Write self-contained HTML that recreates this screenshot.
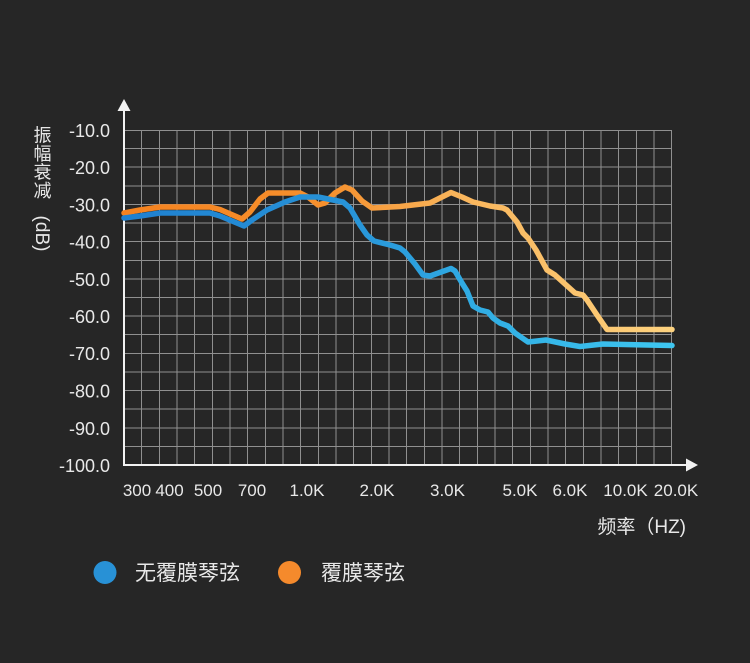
<!DOCTYPE html>
<html>
<head>
<meta charset="utf-8">
<style>
  html,body{margin:0;padding:0;background:#262626;}
  body{width:750px;height:663px;position:relative;overflow:hidden;}
  svg{position:absolute;left:0;top:0;}
</style>
</head>
<body>
<svg width="750" height="663" viewBox="0 0 750 663" xmlns="http://www.w3.org/2000/svg">
  <defs>
    <linearGradient id="og" gradientUnits="userSpaceOnUse" x1="124" y1="0" x2="672" y2="0">
      <stop offset="0" stop-color="#f5821f"/>
      <stop offset="0.38" stop-color="#f6912e"/>
      <stop offset="0.6" stop-color="#f9b45a"/>
      <stop offset="1" stop-color="#fdd27f"/>
    </linearGradient>
    <linearGradient id="bg" gradientUnits="userSpaceOnUse" x1="124" y1="0" x2="672" y2="0">
      <stop offset="0" stop-color="#1f80d0"/>
      <stop offset="0.4" stop-color="#2793d8"/>
      <stop offset="0.7" stop-color="#33b2e6"/>
      <stop offset="1" stop-color="#3ec6f0"/>
    </linearGradient>
  </defs>
  <g stroke="#909090" stroke-width="1" fill="none" shape-rendering="crispEdges">
    <path d="M124 130.5H672 M124 148.6H672 M124 167.2H672 M124 185.8H672 M124 204.4H672 M124 223.1H672 M124 241.7H672 M124 260.3H672 M124 278.9H672 M124 297.5H672 M124 316.1H672 M124 334.7H672 M124 353.3H672 M124 371.9H672 M124 390.6H672 M124 409.2H672 M124 427.8H672 M124 446.4H672"/>
    <path d="M141.7 130V465 M159.3 130V465 M177 130V465 M194.7 130V465 M212.3 130V465 M230 130V465 M247.7 130V465 M265.3 130V465 M283 130V465 M300.7 130V465 M318.3 130V465 M336 130V465 M353.7 130V465 M371.3 130V465 M389 130V465 M406.7 130V465 M424.3 130V465 M442 130V465 M459.7 130V465 M477.3 130V465 M495 130V465 M512.7 130V465 M530.3 130V465 M548 130V465 M565.7 130V465 M583.3 130V465 M601 130V465 M618.7 130V465 M636.3 130V465 M654 130V465 M671.7 130V465"/>
  </g>
  <!-- axes -->
  <g stroke="#f2f2f2" stroke-width="2" fill="none">
    <path d="M124 108V466 M123 465H688"/>
  </g>
  <polygon points="124,99 117.5,111 130.5,111" fill="#f2f2f2"/>
  <polygon points="698,465 686,458.5 686,471.5" fill="#f2f2f2"/>
  <!-- series -->
  <polyline fill="none" stroke="url(#og)" stroke-width="5.5" stroke-linejoin="round" stroke-linecap="round"
    points="124,213 140,210 160,207 210,207 220,209.5 242,219 250,212 260,199 268,193 300,193 308,197 318,205 325,203 335,193 345,187 352,190 362,201 372,208 400,206.5 430,203 440,198 451,192.5 462,197 473,202 490,206 503,208 507,210 517,222 523,233 528,238 536,250 547,270 555,275 565,284 575,293 583,295 587,300 597,315 607,329.5 672,329.5"/>
  <polyline fill="none" stroke="url(#bg)" stroke-width="5.5" stroke-linejoin="round" stroke-linecap="round"
    points="124,218 140,216 160,213 210,213 220,216 244,226 252,220 267,210 285,202 300,197 318,197 343,202 350,208 360,225 367,235 374,241 390,245 400,248 405,252 415,264 423,275 430,276 451,268.5 455,271 462,283 467,291 473,306 480,310 488,312 493,318 500,323 508,326 515,333 528,342 546,340 565,344 580,346.5 603,344 672,345.5"/>
  <!-- y title -->
  <g font-family="Liberation Sans, Noto Sans CJK SC, sans-serif" font-size="18" fill="#e6e6e6" text-anchor="middle">
    <text x="42.5" y="141.5">振</text>
    <text x="42.5" y="160">幅</text>
    <text x="42.5" y="178.5">衰</text>
    <text x="42.5" y="197">减</text>
  </g>
  <text x="0" y="0" transform="translate(36,233.5) rotate(90)" font-family="Liberation Sans, sans-serif" font-size="19" fill="#e6e6e6" text-anchor="middle">(dB)</text>
  <!-- y labels -->
  <g font-family="Liberation Sans, sans-serif" font-size="18" fill="#e8e8e8" text-anchor="end">
    <text x="110" y="137">-10.0</text>
    <text x="110" y="174">-20.0</text>
    <text x="110" y="211.5">-30.0</text>
    <text x="110" y="248.5">-40.0</text>
    <text x="110" y="286">-50.0</text>
    <text x="110" y="323">-60.0</text>
    <text x="110" y="360">-70.0</text>
    <text x="110" y="397.5">-80.0</text>
    <text x="110" y="435">-90.0</text>
    <text x="110" y="472">-100.0</text>
  </g>
  <!-- x labels -->
  <g font-family="Liberation Sans, sans-serif" font-size="17" fill="#e8e8e8" text-anchor="middle">
    <text x="137" y="496">300</text>
    <text x="169.5" y="496">400</text>
    <text x="208" y="496">500</text>
    <text x="252" y="496">700</text>
    <text x="307" y="496">1.0K</text>
    <text x="377" y="496">2.0K</text>
    <text x="447.5" y="496">3.0K</text>
    <text x="520" y="496">5.0K</text>
    <text x="570" y="496">6.0K</text>
    <text x="625.5" y="496">10.0K</text>
    <text x="676" y="496">20.0K</text>
  </g>
  <text x="686" y="533" font-family="Liberation Sans, Noto Sans CJK SC, sans-serif" font-size="19" fill="#e8e8e8" text-anchor="end">频率（HZ)</text>
  <!-- legend -->
  <circle cx="105" cy="572.5" r="11.5" fill="#2891d6"/>
  <text x="135" y="580" font-family="Liberation Sans, Noto Sans CJK SC, sans-serif" font-size="21" fill="#e8e8e8">无覆膜琴弦</text>
  <circle cx="289.5" cy="572.5" r="11.5" fill="#f58a2c"/>
  <text x="321" y="580" font-family="Liberation Sans, Noto Sans CJK SC, sans-serif" font-size="21" fill="#e8e8e8">覆膜琴弦</text>
</svg>
</body>
</html>
